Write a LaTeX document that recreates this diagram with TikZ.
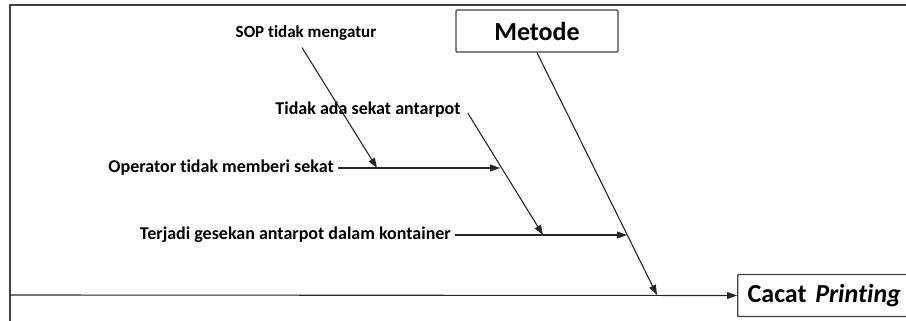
\documentclass[tikz,border=0pt]{standalone}
\usepackage{fontspec}
\setmainfont{Carlito}[Ligatures=NoCommon]
\usetikzlibrary{arrows.meta}
\def\bone{\draw[line width=1.1pt,black!85,-{Triangle[length=10pt,width=7pt]}]}
\tikzset{
  cause/.style={font=\bfseries\fontsize{18}{20}\selectfont,inner sep=4pt},
  effbox/.style={draw=black!75,line width=1.3pt,rounded corners=1pt,
    font=\bfseries\fontsize{26}{28}\selectfont,minimum height=42pt}
}
\begin{document}
\begin{tikzpicture}[x=1pt,y=-1pt]
                \useasboundingbox (0,0) rectangle (906,321);
                \draw[line width=1.4pt,black!75] (10,321) -- (10,5) -- (906,5);
                % kotak
                \node[effbox,minimum width=162pt] (metode) at (537,31) {Metode};
                \node[effbox,anchor=west,minimum width=175pt,align=left,text width=155pt]
                    (cacat) at (737,295.5) {Cacat \textit{Printing}};
                % sebab
                \node[cause,font=\bfseries\fontsize{17}{19}\selectfont] (sop) at (306,33) {SOP tidak mengatur};
                \node[cause] (tidak) at (368,110) {Tidak ada sekat antarpot};
                \node[cause,anchor=east] (operator) at (338,168) {Operator tidak memberi sekat};
                \node[cause,anchor=east] (terjadi) at (455,235) {Terjadi gesekan antarpot dalam kontainer};
                \coordinate (ekor) at (10,295);
                \coordinate (m1) at (657,295);
                \coordinate (t1) at (543,235);
                \coordinate (t2) at (627,235);
                \coordinate (s1) at (377,168);
                \coordinate (o1) at (500,168);
                % tulang
                \bone (ekor) -- (cacat.west);
                \bone (metode.south) -- (m1);
                \bone (terjadi.east) -- (t2);
                \bone ([shift={(3,3)}]tidak.east) -- (t1);
                \bone (operator.east) -- (o1);
                \bone ([shift={(-4,3)}]sop.south) -- (s1);
            \end{tikzpicture}
\end{document}
